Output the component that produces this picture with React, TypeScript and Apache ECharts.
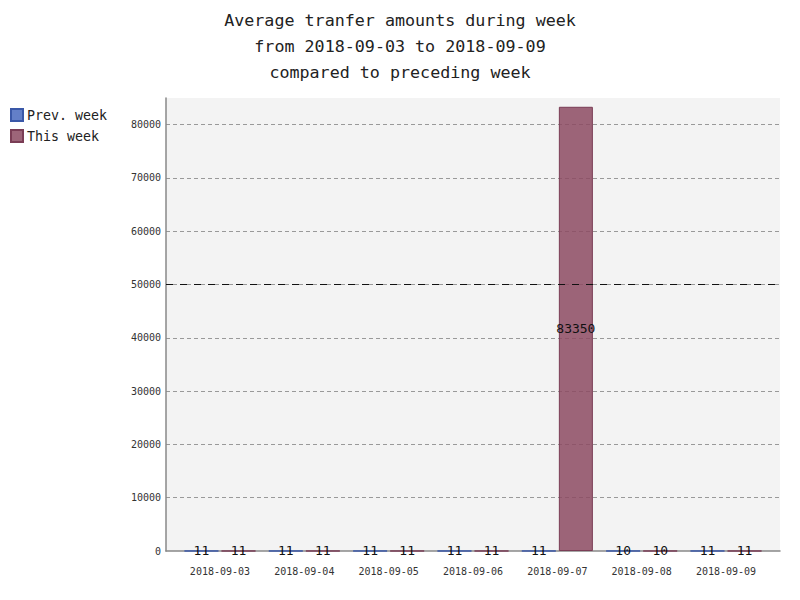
import { useEffect, useRef } from 'react';
import * as echarts from 'echarts';

const days = ['2018-09-03', '2018-09-04', '2018-09-05', '2018-09-06', '2018-09-07', '2018-09-08', '2018-09-09'];
const prevWeek = [11, 11, 11, 11, 11, 10, 11];
const thisWeek = [11, 11, 11, 11, 83350, 10, 11];
const threshold = 50000;

const mono = 'DejaVu Sans Mono';

const App: React.FC = () => {
  const divRef = useRef<HTMLDivElement | null>(null);

  useEffect(() => {
    if (!divRef.current) return;
    const chart = echarts.init(divRef.current, undefined, { renderer: 'svg' });

    const label = {
      show: true,
      position: 'inside',
      color: '#111',
      fontFamily: mono,
      fontSize: 13,
      formatter: (p: any) => String(p.value[1]),
    };

    chart.setOption({
      animation: false,
      title: {
        text: 'Average tranfer amounts during week\nfrom 2018-09-03 to 2018-09-09\ncompared to preceding week',
        left: 395,
        top: 2,
        textAlign: 'center',
        textStyle: { fontFamily: mono, fontSize: 16.7, fontWeight: 'normal', color: '#222', lineHeight: 26 },
      },
      legend: {
        orient: 'vertical',
        left: 5,
        top: 103,
        icon: 'rect',
        itemWidth: 12,
        itemHeight: 12,
        itemGap: 7,
        textStyle: { fontFamily: mono, fontSize: 13.3, color: '#222', padding: [0, 0, 0, -1] },
      },
      grid: {
        left: 166,
        right: 20,
        top: 98,
        bottom: 49,
        show: true,
        backgroundColor: '#f3f3f3',
        borderWidth: 0,
      },
      xAxis: {
        type: 'value',
        min: -0.64,
        max: 6.64,
        axisLine: { show: true, onZero: false, lineStyle: { color: '#888', width: 1.5 } },
        axisTick: { show: false },
        splitLine: { show: false },
        axisLabel: {
          customValues: days.map((_, i) => i),
          formatter: (v: number) => days[Math.round(v)] ?? '',
          fontFamily: mono,
          fontSize: 10,
          color: '#333',
          margin: 15,
        },
      },
      yAxis: {
        type: 'value',
        min: 0,
        max: 85000,
        interval: 10000,
        axisLine: { show: true, onZero: false, lineStyle: { color: '#888', width: 1.5 } },
        axisTick: { show: false },
        axisLabel: {
          fontFamily: mono,
          fontSize: 10,
          color: '#333',
          margin: 5,
          showMaxLabel: false,
          formatter: (v: number) => String(v),
        },
        splitLine: {
          show: true,
          showMinLine: false,
          showMaxLine: false,
          lineStyle: { color: '#999', type: [4, 3], width: 1 },
        },
      },
      series: [
        {
          name: 'Prev. week',
          type: 'bar',
          barWidth: 34,
          barGap: '9%',
          data: prevWeek.map((v, i) => [i, v]),
          itemStyle: { color: 'rgba(72,104,190,0.85)', borderColor: '#3a58a8', borderWidth: 1 },
          label,
          markLine: {
            silent: true,
            symbol: 'none',
            label: { show: false },
            lineStyle: { color: '#111', type: [7, 7], width: 1 },
            data: [{ yAxis: threshold }],
          },
        },
        {
          name: 'This week',
          type: 'bar',
          barWidth: 34,
          barGap: '9%',
          data: thisWeek.map((v, i) => [i, v]),
          itemStyle: { color: 'rgba(140,74,98,0.85)', borderColor: '#7a3d55', borderWidth: 1 },
          label,
        },
      ],
    });

    return () => chart.dispose();
  }, []);

  return <div ref={divRef} style={{ width: 800, height: 600, position: 'absolute', left: 0, top: 0 }} />;
};

export default App;
